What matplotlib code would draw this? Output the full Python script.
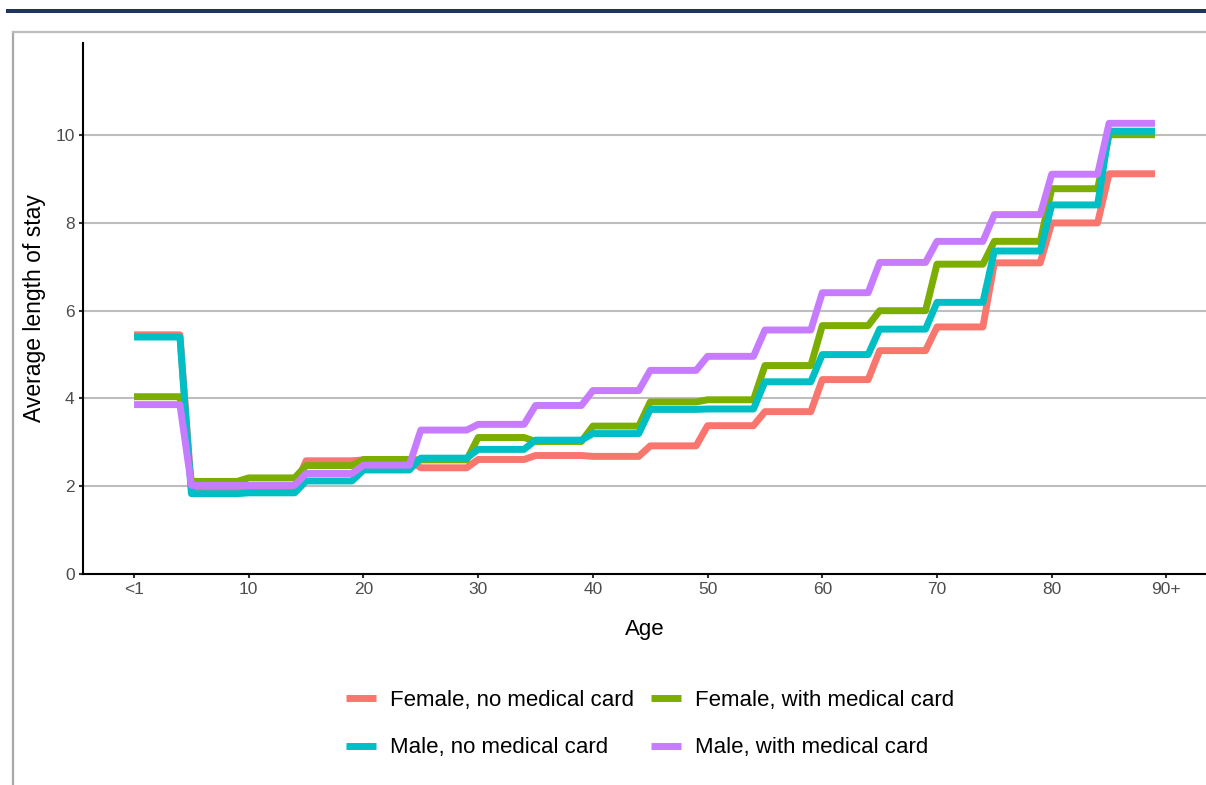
import matplotlib
matplotlib.use("Agg")
import matplotlib.pyplot as plt
from matplotlib.lines import Line2D
from matplotlib.patches import Rectangle

plt.rcParams['font.family'] = ['Liberation Sans', 'DejaVu Sans']

# age groups 0-4, 5-9, ..., 85-89 (start age of each group)
group_start = [0, 5, 10, 15, 20, 25, 30, 35, 40, 45, 50, 55, 60, 65, 70, 75, 80, 85]

female_no_card = [5.45, 1.95, 1.98, 2.58, 2.60, 2.42, 2.61, 2.70, 2.68, 2.92, 3.38, 3.70,
                  4.43, 5.09, 5.63, 7.09, 8.00, 9.12]
female_card = [4.04, 2.11, 2.19, 2.47, 2.61, 2.60, 3.11, 3.02, 3.37, 3.92, 3.97, 4.75,
               5.66, 6.00, 7.06, 7.58, 8.78, 10.01]
male_no_card = [5.40, 1.83, 1.85, 2.12, 2.37, 2.64, 2.84, 3.05, 3.20, 3.75, 3.76, 4.38,
                5.00, 5.58, 6.19, 7.36, 8.41, 10.09]
male_card = [3.86, 2.02, 2.02, 2.29, 2.48, 3.28, 3.41, 3.84, 4.18, 4.64, 4.96, 5.56,
             6.41, 7.10, 7.58, 8.19, 9.11, 10.27]

series = [
    ("Female, no medical card", female_no_card, "#F8766D"),
    ("Female, with medical card", female_card, "#7CAE00"),
    ("Male, no medical card", male_no_card, "#00BFC4"),
    ("Male, with medical card", male_card, "#C77CFF"),
]

tick_pos = [0, 10, 20, 30, 40, 50, 60, 70, 80, 90]
tick_labels = ["<1", "10", "20", "30", "40", "50", "60", "70", "80", "90+"]

W, H = 1206, 785
fig = plt.figure(figsize=(W / 100, H / 100), dpi=100)

# page decorations: navy rule and grey frame
fig.add_artist(Rectangle((6 / W, 1 - 12.5 / H), 1 - 6 / W, 4 / H, transform=fig.transFigure,
                         facecolor="#1F3560", edgecolor="none"))
fig.add_artist(Line2D([12.5 / W, 12.5 / W], [0, 1 - 31.5 / H], transform=fig.transFigure,
                      color="#A8A8A8", lw=1.6))
fig.add_artist(Line2D([12.5 / W, 1], [1 - 31.5 / H, 1 - 31.5 / H], transform=fig.transFigure,
                      color="#BDBDBD", lw=1.6))

left, bottom = 83 / W, 1 - 574 / H
ax = fig.add_axes([left, bottom, 1 - left, (574 - 43) / H])

handles = {}
for i, (name, vals, col) in enumerate(series):
    xs, ys = [], []
    for s, v in zip(group_start, vals):
        xs += [s, s + 4]
        ys += [v, v]
    ln, = ax.plot(xs, ys, color=col, lw=5, solid_capstyle="butt", zorder=3 + i)
    handles[name] = ln

ax.set_xlim(-4.45, 93.45)
ax.set_ylim(0, 12.1)
ax.set_xticks(tick_pos)
ax.set_xticklabels(tick_labels)
ax.set_yticks([0, 2, 4, 6, 8, 10])

for sp in ["top", "right"]:
    ax.spines[sp].set_visible(False)
for sp in ["left", "bottom"]:
    ax.spines[sp].set_color("black")
    ax.spines[sp].set_linewidth(1.5)

ax.yaxis.grid(True, color="#BEBEBE", lw=1.5)
ax.set_axisbelow(True)
ax.tick_params(axis="both", length=3, width=1.5, color="#333333", labelcolor="#4D4D4D",
               labelsize=12.5, pad=3)

ax.set_xlabel("Age", fontsize=16)
ax.set_ylabel("Average length of stay", fontsize=16.5)
ax.xaxis.set_label_coords(0.5, -0.085)
ax.yaxis.set_label_coords(-0.033, 0.5)

order = ["Female, no medical card", "Male, no medical card",
         "Female, with medical card", "Male, with medical card"]
fig.legend([handles[n] for n in order], order, loc="center",
           bbox_to_anchor=(650 / W, 1 - 724 / H), ncol=2, frameon=False, fontsize=16,
           handlelength=1.35, handletextpad=0.6, columnspacing=0.8, labelspacing=1.2)

fig.savefig("out.png", dpi=100)
